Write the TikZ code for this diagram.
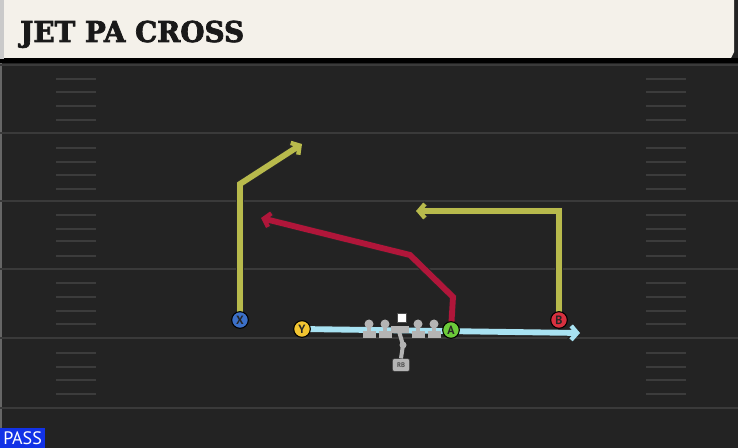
\documentclass[tikz,border=0pt]{standalone}
\usepackage{fontspec}
\usepackage{tikz}
\usetikzlibrary{arrows.meta}
\newfontfamily\headfont{DejaVu Serif}[UprightFont=* Bold,FakeBold=2.5]
\newfontfamily\tagfont{PT Sans}
\definecolor{fieldbg}{HTML}{232323}
\definecolor{yardline}{HTML}{3A3A3A}
\definecolor{hashcol}{HTML}{3C3C3C}
\definecolor{cream}{HTML}{F4F1EA}
\definecolor{olive}{HTML}{B8BA4C}
\definecolor{crimson}{HTML}{B0163A}
\definecolor{motion}{HTML}{A8E2F2}
\definecolor{xblue}{HTML}{3C70C8}
\definecolor{yyellow}{HTML}{F2C531}
\definecolor{agreen}{HTML}{6CCB3A}
\definecolor{bred}{HTML}{D8303F}
\definecolor{olgrey}{HTML}{B4B4B4}
\definecolor{passblue}{HTML}{1232E6}

\begin{document}
\begin{tikzpicture}[x=0.75pt,y=0.75pt,yscale=-1,xscale=1,
  player/.style={circle,draw=black,line width=0.8pt,inner sep=0pt,minimum size=12.5pt,
    font=\tagfont\bfseries\fontsize{9}{9}\selectfont,text=black!85},
  route/.style={line width=4.4pt,line cap=butt,line join=miter,-{Straight Barb[length=4.5pt,width=10.5pt,line width=3.3pt]}},
  outline/.style={route,draw=black!85,line width=5.8pt,-{Straight Barb[length=5pt,width=11.5pt,line width=4.5pt]}}]
\useasboundingbox (0,0) rectangle (738,448);

%field
\fill[fieldbg] (0,0) rectangle (738,448);
\draw[black!60,line width=1pt] (1,60) -- (1,448);
\foreach \yl in {65,133,201,269,338,408}
  \draw[yardline,line width=1.6pt] (0,\yl) -- (738,\yl);
\foreach \yh in {79,92,106,120,148,162,175,189,215,229,241,256,283,297,311,324,353,367,380,394}{
  \draw[hashcol,line width=1.1pt] (56,\yh) -- (96,\yh);
  \draw[hashcol,line width=1.1pt] (646,\yh) -- (686,\yh);
}

%header
\fill[black] (0,58) rectangle (738,63);
\fill[olgrey!70] (0,0) rectangle (4,59);
\fill[cream] (4,0) -- (734,0) -- (734,52) -- (731,58) -- (4,58) -- cycle;
\node[anchor=base west,inner sep=0pt,text=black!90,xscale=0.97] (title) at (20,42)
  {\headfont\fontsize{21.5}{21.5}\selectfont JET PA CROSS};

%spots
\coordinate (xs) at (240,320);
\coordinate (ys) at (302,329);
\coordinate (as) at (451,330);
\coordinate (bs) at (559,320);
\coordinate (x1) at (240,184);
\coordinate (x2) at (302,144);
\coordinate (a1) at (453,297);
\coordinate (a2) at (410,255);
\coordinate (a3) at (261,218);
\coordinate (b1) at (559,211);
\coordinate (b2) at (416,211);
\coordinate (m1) at (580,333);

%routes
\draw[outline] (xs) -- (x1) -- (x2);
\draw[route,olive] (xs) -- (x1) -- (x2);
\draw[outline] (as) -- (a1) -- (a2) -- (a3);
\draw[route,crimson] (as) -- (a1) -- (a2) -- (a3);
\draw[outline] (bs) -- (b1) -- (b2);
\draw[route,olive] (bs) -- (b1) -- (b2);
\draw[outline] (ys) -- (m1);
\draw[route,motion] (ys) -- (m1);

%line and backfield
\coordinate (qb) at (403,345);
\node[draw=black!80,fill=olgrey,rounded corners=1.5pt,minimum width=13pt,minimum height=9.5pt,inner sep=0pt,
  font=\tagfont\bfseries\fontsize{5}{5}\selectfont,text=black!70] (RB) at (401,365) {RB};
\draw[olgrey,line width=3pt] (398,328) -- (qb) -- (RB.north);
\fill[olgrey] (qb) circle (3.5);
\foreach \xo in {369,385,418,434}{
  \fill[olgrey] (\xo,324) circle (4.5);
  \fill[olgrey] (\xo-2,324) rectangle (\xo+2,333);
  \fill[olgrey] (\xo-6.5,331) rectangle (\xo+6.5,338);
}
\fill[olgrey] (391,326) rectangle (409,333);
\node[draw=black!70,fill=white,minimum size=7pt,inner sep=0pt] (C) at (402,318) {};

%players
\node[player,fill=xblue] (X) at (xs) {X};
\node[player,fill=yyellow] (Y) at (ys) {Y};
\node[player,fill=agreen] (A) at (as) {A};
\node[player,fill=bred] (B) at (bs) {B};

%tag
\fill[passblue] (0,428) rectangle (45,448);
\node[anchor=base west,inner sep=0pt,text=white] (pass) at (3,444)
  {\tagfont\fontsize{13.5}{13.5}\selectfont PASS};
\end{tikzpicture}
\end{document}
